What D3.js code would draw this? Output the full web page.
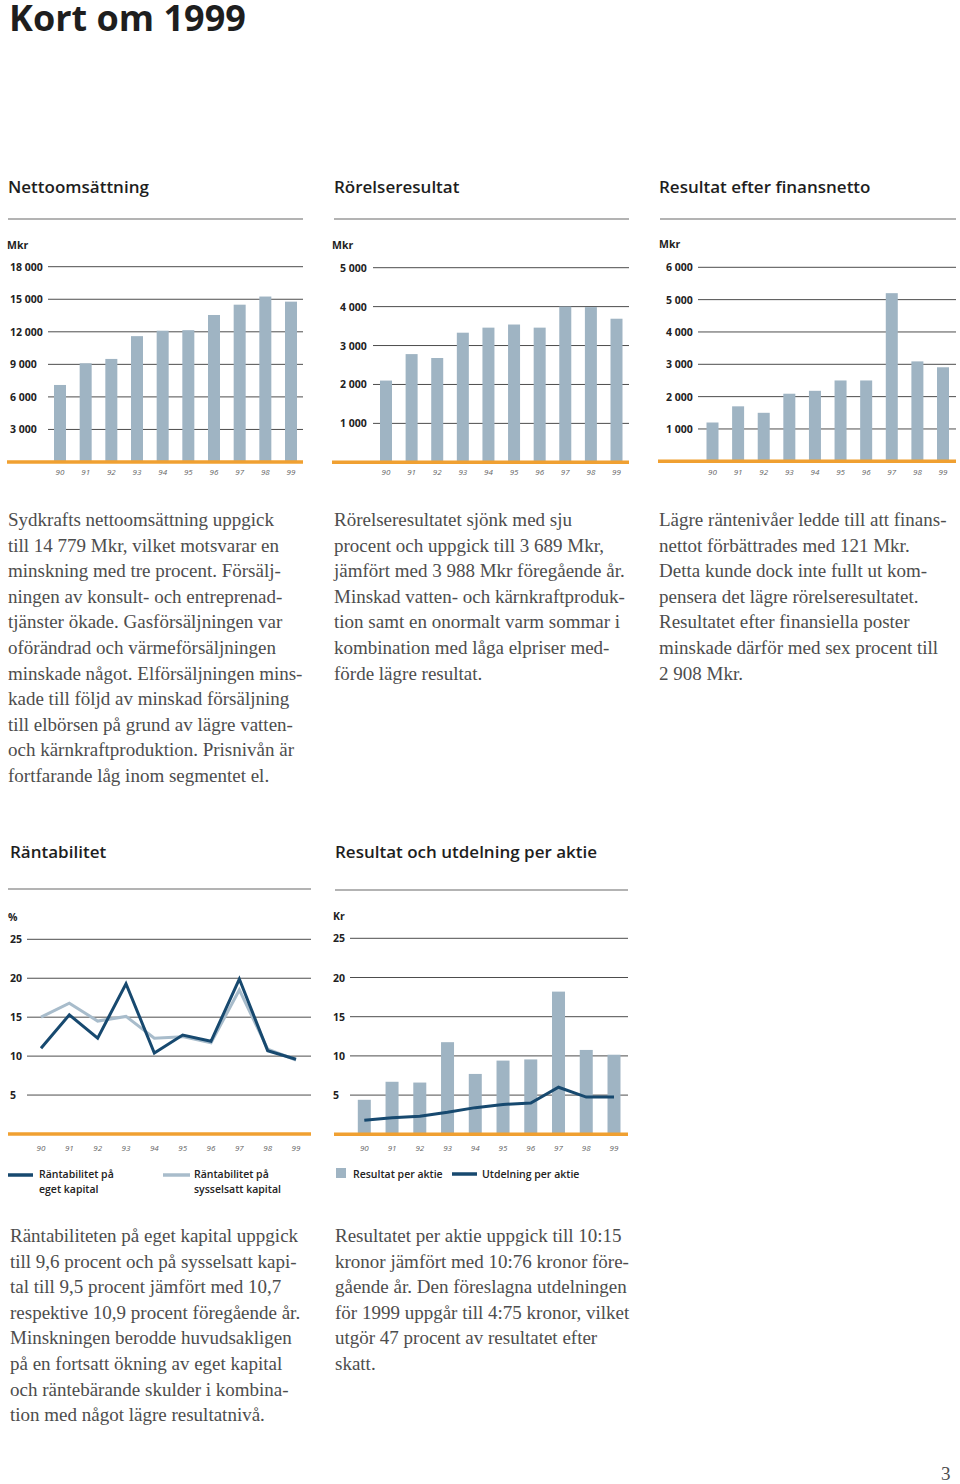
<!DOCTYPE html>
<html>
<head>
<meta charset="utf-8">
<script src="https://cdn.jsdelivr.net/npm/d3@7"></script>
<style>
  body { margin: 0; background: #fff; }
  svg { display: block; }
  .head { font-family: "Open Sans", sans-serif; fill: #1e1e1e; }
  .tick { font-family: "Open Sans", sans-serif; font-weight: 700; font-size: 10.5px; fill: #222; }
  .year { font-family: "Open Sans", sans-serif; font-style: italic; font-size: 8px; fill: #666; }
  .body { font-family: "Liberation Serif", serif; font-size: 19px; fill: #4d4d4d; }
  .legend { font-family: "Open Sans", sans-serif; font-weight: 600; font-size: 10.5px; fill: #222; }
</style>
</head>
<body>
<svg width="960" height="1484"></svg>
<script>
const years = ["90", "91", "92", "93", "94", "95", "96", "97", "98", "99"];

const netSales = [7100, 9100, 9500, 11600, 12100, 12150, 13550, 14500, 15250, 14779];
const operatingResult = [2100, 2780, 2680, 3330, 3460, 3540, 3460, 4000, 3988, 3689];
const resultAfterFinancial = [1200, 1700, 1500, 2090, 2180, 2500, 2500, 5200, 3090, 2908];

const salesTicks = [3000, 6000, 9000, 12000, 15000, 18000];
const operatingTicks = [1000, 2000, 3000, 4000, 5000];
const financialTicks = [1000, 2000, 3000, 4000, 5000, 6000];
const percentTicks = [5, 10, 15, 20, 25];

const roeEquity = [11.0, 15.3, 12.3, 19.3, 10.4, 12.7, 11.9, 19.9, 10.7, 9.6];
const roeCapital = [15.0, 16.8, 14.5, 15.1, 12.3, 12.5, 11.7, 18.5, 10.9, 9.5];

const epsValues = [4.4, 6.7, 6.6, 11.75, 7.7, 9.4, 9.55, 18.2, 10.76, 10.15];
const dividendValues = [1.8, 2.1, 2.3, 2.8, 3.4, 3.8, 4.0, 6.0, 4.75, 4.75];

const textSales = [
  "Sydkrafts nettoomsättning uppgick",
  "till 14 779 Mkr, vilket motsvarar en",
  "minskning med tre procent. Försälj-",
  "ningen av konsult- och entreprenad-",
  "tjänster ökade. Gasförsäljningen var",
  "oförändrad och värmeförsäljningen",
  "minskade något. Elförsäljningen mins-",
  "kade till följd av minskad försäljning",
  "till elbörsen på grund av lägre vatten-",
  "och kärnkraftproduktion. Prisnivån är",
  "fortfarande låg inom segmentet el."
];
const textOperating = [
  "Rörelseresultatet sjönk med sju",
  "procent och uppgick till 3 689 Mkr,",
  "jämfört med 3 988 Mkr föregående år.",
  "Minskad vatten- och kärnkraftproduk-",
  "tion samt en onormalt varm sommar i",
  "kombination med låga elpriser med-",
  "förde lägre resultat."
];
const textFinancial = [
  "Lägre räntenivåer ledde till att finans-",
  "nettot förbättrades med 121 Mkr.",
  "Detta kunde dock inte fullt ut kom-",
  "pensera det lägre rörelseresultatet.",
  "Resultatet efter finansiella poster",
  "minskade därför med sex procent till",
  "2 908 Mkr."
];
const textReturn = [
  "Räntabiliteten på eget kapital uppgick",
  "till 9,6 procent och på sysselsatt kapi-",
  "tal till 9,5 procent jämfört med 10,7",
  "respektive 10,9 procent föregående år.",
  "Minskningen berodde huvudsakligen",
  "på en fortsatt ökning av eget kapital",
  "och räntebärande skulder i kombina-",
  "tion med något lägre resultatnivå."
];
const textShare = [
  "Resultatet per aktie uppgick till 10:15",
  "kronor jämfört med 10:76 kronor före-",
  "gående år. Den föreslagna utdelningen",
  "för 1999 uppgår till 4:75 kronor, vilket",
  "utgör 47 procent av resultatet efter",
  "skatt."
];

const barColor = "#9fb4c3";
const darkBlue = "#17496f";
const lightBlue = "#a8bccb";
const orange = "#f0a031";
const fmt = d3.format(",");
const thousands = v => fmt(v).replace(/,/g, " ");

const svg = d3.select("svg");

svg.append("text").attr("class", "head")
  .attr("x", 9).attr("y", 31)
  .attr("font-size", 36).attr("font-weight", 700)
  .text("Kort om 1999");

function section(title, x, y, lineX1, lineX2, lineY) {
  svg.append("text").attr("class", "head")
    .attr("x", x).attr("y", y)
    .attr("font-size", 17).attr("font-weight", 600)
    .text(title);
  svg.append("line")
    .attr("x1", lineX1).attr("x2", lineX2)
    .attr("y1", lineY).attr("y2", lineY)
    .attr("stroke", "#9a9a9a").attr("stroke-width", 1.5);
}

function paragraph(lines, x, y) {
  svg.append("g").selectAll("text")
    .data(lines)
    .enter()
    .append("text")
    .attr("class", "body")
    .attr("x", x)
    .attr("y", (d, i) => y + i * 25.6)
    .text(d => d);
}

// frame: grid, unit label, years
function frame(c) {
  const g = svg.append("g");
  g.selectAll("line.grid")
    .data(c.ticks)
    .enter()
    .append("line")
    .attr("x1", c.gridX1).attr("x2", c.gridX2)
    .attr("y1", d => c.y(d)).attr("y2", d => c.y(d))
    .attr("stroke", "#4d4d4d").attr("stroke-width", 1);
  g.selectAll("text.tick")
    .data(c.ticks)
    .enter()
    .append("text")
    .attr("class", "tick")
    .attr("x", c.labelX)
    .attr("y", d => c.y(d) + 4)
    .text(c.format);
  g.append("text").attr("class", "tick")
    .attr("x", c.unitX).attr("y", c.unitY)
    .text(c.unit);
  g.selectAll("text.year")
    .data(years)
    .enter()
    .append("text")
    .attr("class", "year")
    .attr("text-anchor", "middle")
    .attr("x", d => c.x(d))
    .attr("y", c.yearY)
    .text(d => d);
  return g;
}

function baseline(c) {
  svg.append("line")
    .attr("x1", c.baseX1).attr("x2", c.gridX2)
    .attr("y1", c.y(0)).attr("y2", c.y(0))
    .attr("stroke", orange).attr("stroke-width", 3.5);
}

function bars(c, values, width) {
  svg.append("g").selectAll("rect")
    .data(values)
    .enter()
    .append("rect")
    .attr("x", (d, i) => c.x(years[i]) - width / 2)
    .attr("y", d => c.y(d))
    .attr("width", width)
    .attr("height", d => c.y(0) - c.y(d))
    .attr("fill", barColor);
}

function line(c, values, color, width) {
  const path = d3.line()
    .x((d, i) => c.x(years[i]))
    .y(d => c.y(d));
  svg.append("path")
    .datum(values)
    .attr("d", path)
    .attr("fill", "none")
    .attr("stroke", color)
    .attr("stroke-width", width)
    .attr("stroke-linejoin", "miter");
}

// top row
section("Nettoomsättning", 8, 193, 8, 303, 219);
section("Rörelseresultat", 334, 193, 334, 629, 219);
section("Resultat efter finansnetto", 659, 193, 660, 956, 219);

const c1 = {
  x: d3.scalePoint().domain(years).range([60, 291]),
  y: d3.scaleLinear().domain([0, 18000]).range([462, 266.7]),
  ticks: salesTicks, format: thousands, unit: "Mkr",
  gridX1: 48, gridX2: 303, baseX1: 7, labelX: 10, unitX: 7, unitY: 249, yearY: 475
};
frame(c1);
bars(c1, netSales, 12);
baseline(c1);

const c2 = {
  x: d3.scalePoint().domain(years).range([386, 616.5]),
  y: d3.scaleLinear().domain([0, 5000]).range([462.3, 267.7]),
  ticks: operatingTicks, format: thousands, unit: "Mkr",
  gridX1: 373, gridX2: 629, baseX1: 332, labelX: 340, unitX: 332, unitY: 249, yearY: 475
};
frame(c2);
bars(c2, operatingResult, 12);
baseline(c2);

const c3 = {
  x: d3.scalePoint().domain(years).range([712.5, 943]),
  y: d3.scaleLinear().domain([0, 6000]).range([461.3, 267.3]),
  ticks: financialTicks, format: thousands, unit: "Mkr",
  gridX1: 698, gridX2: 956, baseX1: 658, labelX: 666, unitX: 659, unitY: 248, yearY: 475
};
frame(c3);
bars(c3, resultAfterFinancial, 12);
baseline(c3);

paragraph(textSales, 8, 526);
paragraph(textOperating, 334, 526);
paragraph(textFinancial, 659, 526);

// bottom row
section("Räntabilitet", 10, 858, 8, 311, 889);
section("Resultat och utdelning per aktie", 335, 858, 335, 628, 890);

const c4 = {
  x: d3.scalePoint().domain(years).range([41, 296]),
  y: d3.scaleLinear().domain([0, 25]).range([1134, 939.3]),
  ticks: percentTicks, format: d => d, unit: "%",
  gridX1: 27, gridX2: 311, baseX1: 8, labelX: 10, unitX: 8, unitY: 921, yearY: 1151
};
frame(c4);
baseline(c4);
line(c4, roeCapital, lightBlue, 3);
line(c4, roeEquity, darkBlue, 3);

const c5 = {
  x: d3.scalePoint().domain(years).range([364.3, 614]),
  y: d3.scaleLinear().domain([0, 25]).range([1134.3, 938.3]),
  ticks: percentTicks, format: d => d, unit: "Kr",
  gridX1: 350, gridX2: 628, baseX1: 334, labelX: 333, unitX: 333, unitY: 920, yearY: 1151
};
frame(c5);
bars(c5, epsValues, 13);
baseline(c5);
line(c5, dividendValues, darkBlue, 3);

// legends
const leg = svg.append("g");
leg.append("line").attr("x1", 8).attr("x2", 33).attr("y1", 1175).attr("y2", 1175)
  .attr("stroke", darkBlue).attr("stroke-width", 3.5);
leg.append("text").attr("class", "legend").attr("x", 39).attr("y", 1178).text("Räntabilitet på");
leg.append("text").attr("class", "legend").attr("x", 39).attr("y", 1193).text("eget kapital");
leg.append("line").attr("x1", 163).attr("x2", 190).attr("y1", 1175).attr("y2", 1175)
  .attr("stroke", lightBlue).attr("stroke-width", 3.5);
leg.append("text").attr("class", "legend").attr("x", 194).attr("y", 1178).text("Räntabilitet på");
leg.append("text").attr("class", "legend").attr("x", 194).attr("y", 1193).text("sysselsatt kapital");

leg.append("rect").attr("x", 336).attr("y", 1168).attr("width", 10).attr("height", 10)
  .attr("fill", barColor);
leg.append("text").attr("class", "legend").attr("x", 353).attr("y", 1178).text("Resultat per aktie");
leg.append("line").attr("x1", 452).attr("x2", 477).attr("y1", 1174).attr("y2", 1174)
  .attr("stroke", darkBlue).attr("stroke-width", 3.5);
leg.append("text").attr("class", "legend").attr("x", 482).attr("y", 1178).text("Utdelning per aktie");

paragraph(textReturn, 10, 1242);
paragraph(textShare, 335, 1242);

svg.append("text").attr("class", "body")
  .attr("x", 941).attr("y", 1480).attr("font-size", 20)
  .text("3");
</script>
</body>
</html>
